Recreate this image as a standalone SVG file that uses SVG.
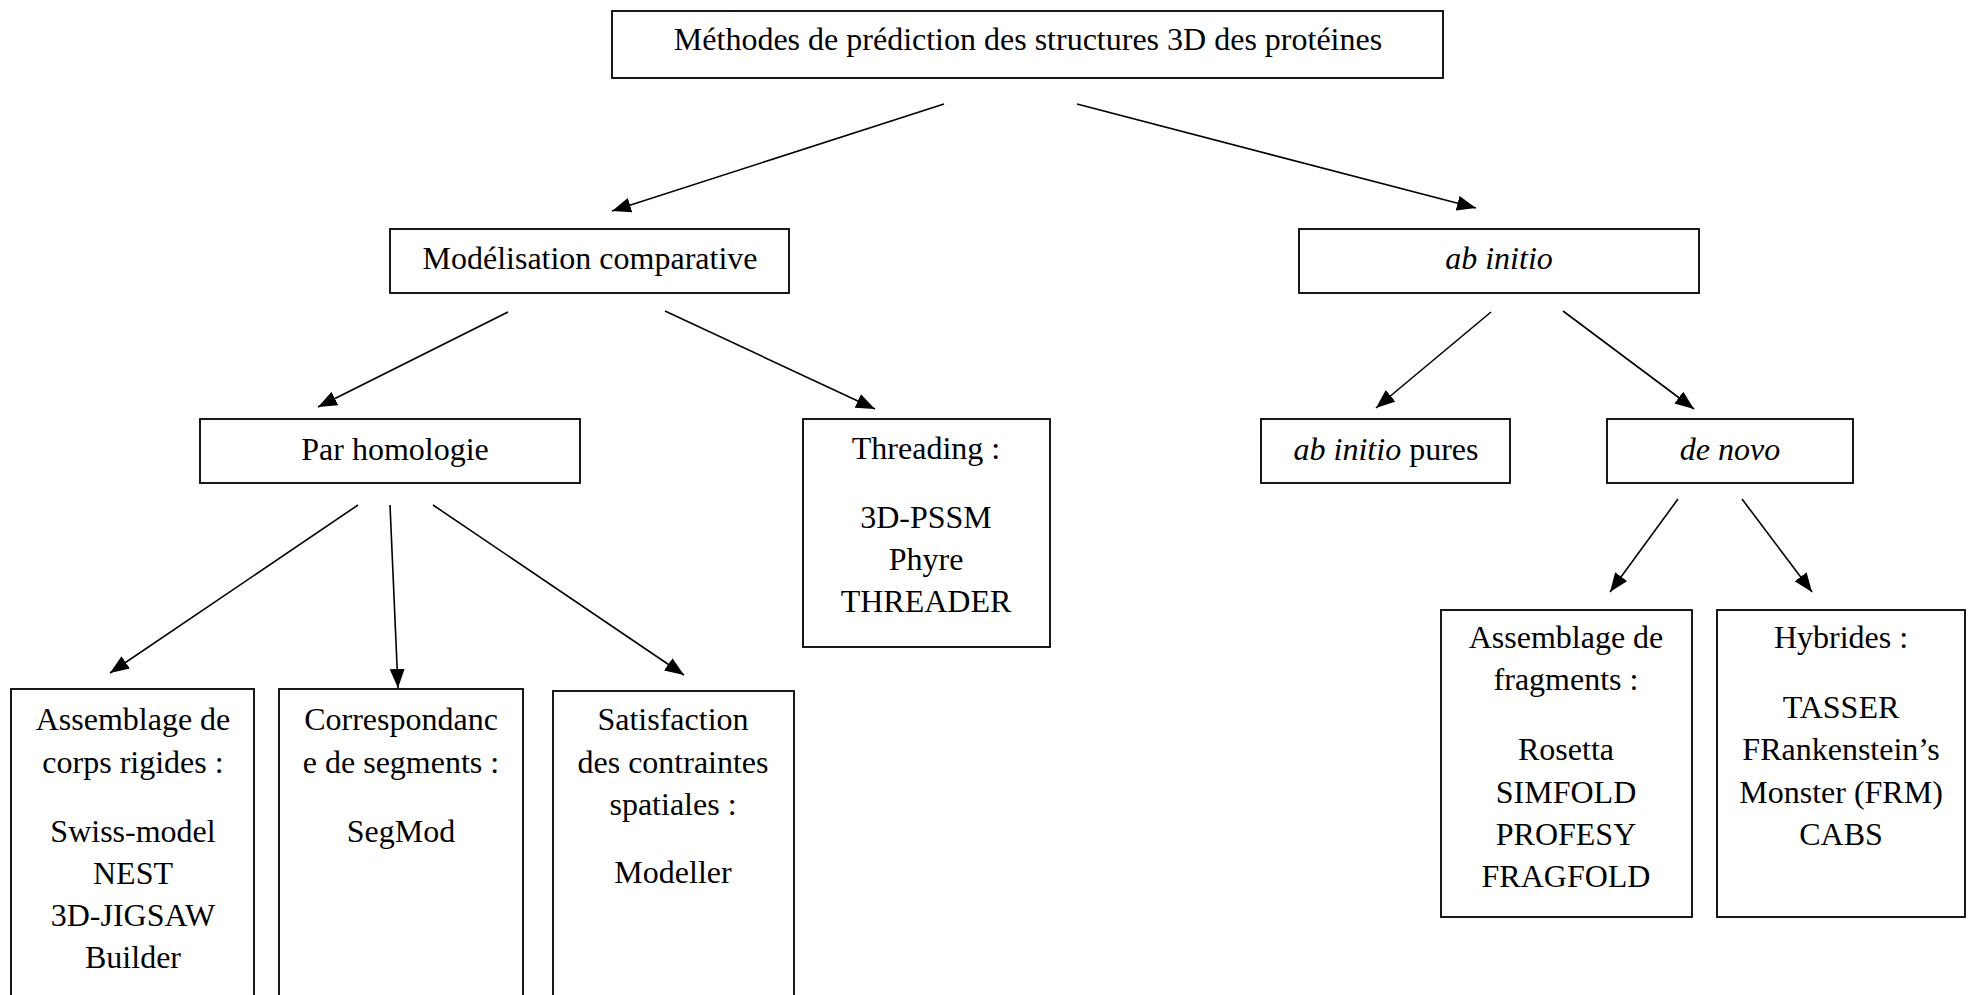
<svg xmlns="http://www.w3.org/2000/svg" width="1968" height="995" viewBox="0 0 1968 995">
<style>
.box{fill:#fff;stroke:#000;stroke-width:1.8}
.t{font-family:"Liberation Serif","Times New Roman",serif;font-size:32px;fill:#000;text-anchor:middle}
.i{font-style:italic}
.c{stroke:#000;stroke-width:1.6;fill:none;marker-end:url(#ah)}
</style>
<defs>
<marker id="ah" markerUnits="userSpaceOnUse" markerWidth="22" markerHeight="16" refX="19" refY="7.5" orient="auto">
<path d="M0,0 L19,7.5 L0,15 z" fill="#000"/>
</marker>
</defs>
<rect width="1968" height="995" fill="#fff"/>
<g id="connectors">
<line class="c" x1="944" y1="104" x2="612" y2="211"/>
<line class="c" x1="1077" y1="104" x2="1476" y2="208"/>
<line class="c" x1="508" y1="312" x2="318" y2="407"/>
<line class="c" x1="665" y1="311" x2="875" y2="409"/>
<line class="c" x1="1491" y1="312" x2="1376" y2="408"/>
<line class="c" x1="1563" y1="311" x2="1694" y2="409"/>
<line class="c" x1="358" y1="505" x2="110" y2="673"/>
<line class="c" x1="390" y1="505" x2="398" y2="688"/>
<line class="c" x1="433" y1="505" x2="684" y2="675"/>
<line class="c" x1="1678" y1="499" x2="1610" y2="592"/>
<line class="c" x1="1742" y1="499" x2="1812" y2="592"/>
</g>
<g id="root">
<rect class="box" x="612" y="11" width="831" height="67"/>
<text class="t" x="1028" y="50">Méthodes de prédiction des structures 3D des protéines</text>
</g>
<g id="comparative">
<rect class="box" x="390" y="229" width="399" height="64"/>
<text class="t" x="590" y="269">Modélisation comparative</text>
</g>
<g id="abinitio">
<rect class="box" x="1299" y="229" width="400" height="64"/>
<text class="t i" x="1499" y="269">ab initio</text>
</g>
<g id="homologie">
<rect class="box" x="200" y="419" width="380" height="64"/>
<text class="t" x="395" y="460">Par homologie</text>
</g>
<g id="threading">
<rect class="box" x="803" y="419" width="247" height="228"/>
<text class="t" x="926" y="459">Threading :</text>
<text class="t" x="926" y="528">3D-PSSM</text>
<text class="t" x="926" y="570">Phyre</text>
<text class="t" x="926" y="612">THREADER</text>
</g>
<g id="pures">
<rect class="box" x="1261" y="419" width="249" height="64"/>
<text class="t" x="1386" y="460"><tspan class="i">ab initio</tspan> pures</text>
</g>
<g id="denovo">
<rect class="box" x="1607" y="419" width="246" height="64"/>
<text class="t i" x="1730" y="460">de novo</text>
</g>
<g id="corps">
<rect class="box" x="11" y="689" width="243" height="330"/>
<text class="t" x="133" y="730">Assemblage de</text>
<text class="t" x="133" y="773">corps rigides :</text>
<text class="t" x="133" y="842">Swiss-model</text>
<text class="t" x="133" y="884">NEST</text>
<text class="t" x="133" y="926">3D-JIGSAW</text>
<text class="t" x="133" y="968">Builder</text>
</g>
<g id="segments">
<rect class="box" x="279" y="689" width="244" height="330"/>
<text class="t" x="401" y="730">Correspondanc</text>
<text class="t" x="401" y="773">e de segments :</text>
<text class="t" x="401" y="842">SegMod</text>
</g>
<g id="contraintes">
<rect class="box" x="553" y="691" width="241" height="330"/>
<text class="t" x="673" y="730">Satisfaction</text>
<text class="t" x="673" y="773">des contraintes</text>
<text class="t" x="673" y="815">spatiales :</text>
<text class="t" x="673" y="883">Modeller</text>
</g>
<g id="fragments">
<rect class="box" x="1441" y="610" width="251" height="307"/>
<text class="t" x="1566" y="648">Assemblage de</text>
<text class="t" x="1566" y="690">fragments :</text>
<text class="t" x="1566" y="760">Rosetta</text>
<text class="t" x="1566" y="803">SIMFOLD</text>
<text class="t" x="1566" y="845">PROFESY</text>
<text class="t" x="1566" y="887">FRAGFOLD</text>
</g>
<g id="hybrides">
<rect class="box" x="1717" y="610" width="248" height="307"/>
<text class="t" x="1841" y="648">Hybrides :</text>
<text class="t" x="1841" y="718">TASSER</text>
<text class="t" x="1841" y="760">FRankenstein’s</text>
<text class="t" x="1841" y="803">Monster (FRM)</text>
<text class="t" x="1841" y="845">CABS</text>
</g>
</svg>
